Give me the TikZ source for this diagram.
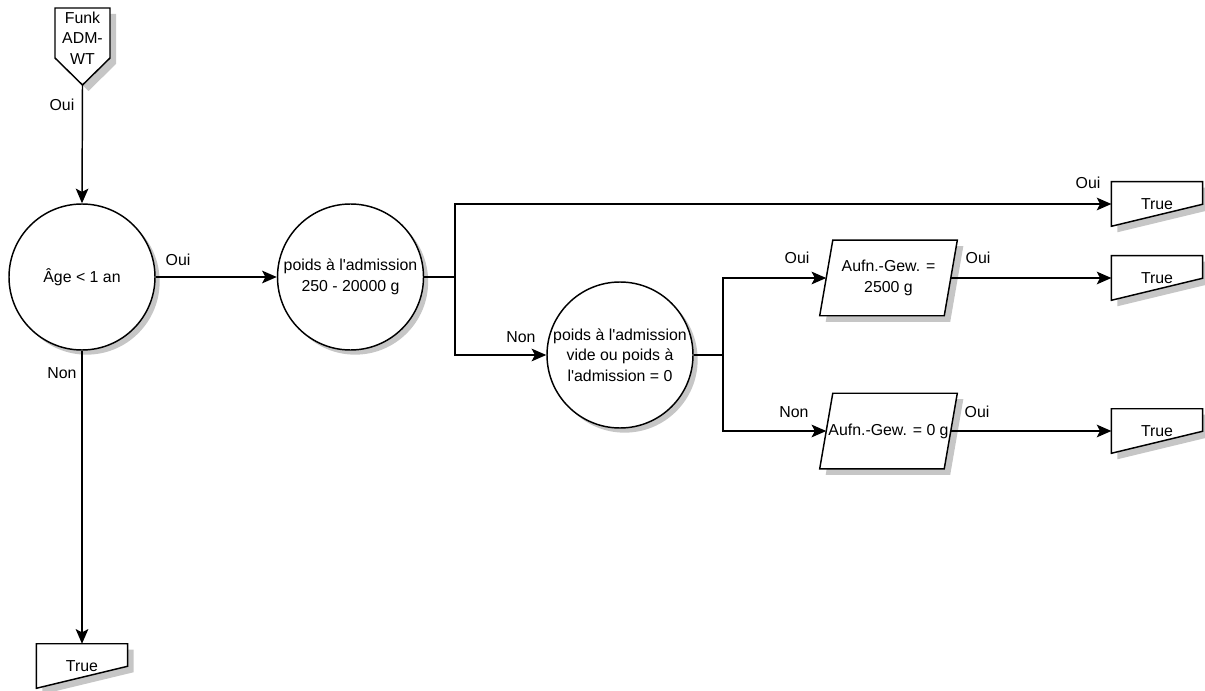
\documentclass[tikz,border=0pt]{standalone}
\usepackage{fontspec}
\newfontfamily\arialfont{Liberation Sans}
\usetikzlibrary{arrows.meta, shadows, backgrounds}

\tikzset{
  txt/.style={font=\arialfont\fontsize{11.9pt}{15.5pt}\selectfont, align=center},
  lbl/.style={txt, inner sep=0pt},
  decision/.style={txt, circle, draw, line width=1.1pt, fill=white, minimum size=109.5pt, inner sep=0pt,
    drop shadow={shadow xshift=3.5pt, shadow yshift=-3.5pt, fill=gray!45, opacity=1}},
  textbox/.style={txt, rectangle, inner sep=0pt},
  truebox/.style={textbox, minimum width=68pt, minimum height=33pt},
  databox/.style={textbox, minimum width=93pt, minimum height=56.25pt},
  flow/.style={line width=1.1pt, -{Stealth[length=11pt, width=9.5pt, inset=2.5pt]}},
  plain/.style={line width=1.1pt},
  shade/.style={fill=gray!45, transform canvas={xshift=4.5pt, yshift=-4.5pt}}
}

\begin{document}
\begin{tikzpicture}[x=0.75pt, y=-0.75pt]
    \useasboundingbox (0,0) rectangle (1205,691);

    % Start
    \coordinate (starttip) at (82.5,85);
    \node[textbox] (start) at (82.5,38) {Funk\\ADM-\\WT};

    % Decisions
    \node[decision] (age) at (82,277) {Âge < 1 an};
    \node[decision] (p1) at (350.5,277) {poids à l'admission\\250 - 20000 g};
    \node[decision] (p3) at (620,355) {poids à l'admission\\vide ou poids à\\l'admission = 0};

    % Assignments
    \node[databox] (g1) at (888.5,278) {Aufn.-Gew. =\\2500 g};
    \node[databox] (g2) at (888.5,431) {Aufn.-Gew. = 0 g};

    % Results
    \node[truebox] (t1) at (1157,204) {True};
    \node[truebox] (t2) at (1157,278) {True};
    \node[truebox] (t3) at (1157,431) {True};
    \node[truebox] (t4) at (82,666) {True};

    % Junctions
    \coordinate (j1) at (455,277);
    \coordinate (j2) at (723,355);

    % Outlines
    \begin{scope}[on background layer]
        \fill[shade] (55,8) -- (110,8) -- (110,58) -- (starttip) -- (55,58) -- cycle;
        \draw[plain, fill=white] (55,8) -- (110,8) -- (110,58) -- (starttip) -- (55,58) -- cycle;
        \foreach \n in {t1,t2,t3,t4} {
            \fill[shade] (\n.north west) -- (\n.north east) -- ([yshift=16.5pt]\n.south east) -- (\n.south west) -- cycle;
            \draw[plain, fill=white] (\n.north west) -- (\n.north east) -- ([yshift=16.5pt]\n.south east) -- (\n.south west) -- cycle;
        }
        \foreach \n in {g1,g2} {
            \fill[shade] ([xshift=4.9pt]\n.north west) -- ([xshift=4.9pt]\n.north east) -- ([xshift=-4.9pt]\n.south east) -- ([xshift=-4.9pt]\n.south west) -- cycle;
            \draw[plain, fill=white] ([xshift=4.9pt]\n.north west) -- ([xshift=4.9pt]\n.north east) -- ([xshift=-4.9pt]\n.south east) -- ([xshift=-4.9pt]\n.south west) -- cycle;
        }
    \end{scope}

    % Connectors
    \draw[flow] (starttip) -- (age.north);
    \draw[flow] (age.east) -- (p1.west);
    \draw[plain] (p1.east) -- (j1);
    \draw[flow] (j1) |- (t1.west);
    \draw[flow] (j1) |- (p3.west);
    \draw[plain] (p3.east) -- (j2);
    \draw[flow] (j2) |- (g1.west);
    \draw[flow] (j2) |- (g2.west);
    \draw[flow] (g1.east) -- (t2.west);
    \draw[flow] (g2.east) -- (t3.west);
    \draw[flow] (age.south) -- (t4.north);

    % Labels
    \node[lbl] (oui0) at (62,105) {Oui};
    \node[lbl] (oui1) at (178,260) {Oui};
    \node[lbl] (non1) at (62,373) {Non};
    \node[lbl] (oui2) at (1088,183) {Oui};
    \node[lbl] (non2) at (521,337) {Non};
    \node[lbl] (oui3) at (797,258) {Oui};
    \node[lbl] (non3) at (794,412) {Non};
    \node[lbl] (oui4) at (978,258) {Oui};
    \node[lbl] (oui5) at (977,412) {Oui};
\end{tikzpicture}
\end{document}
